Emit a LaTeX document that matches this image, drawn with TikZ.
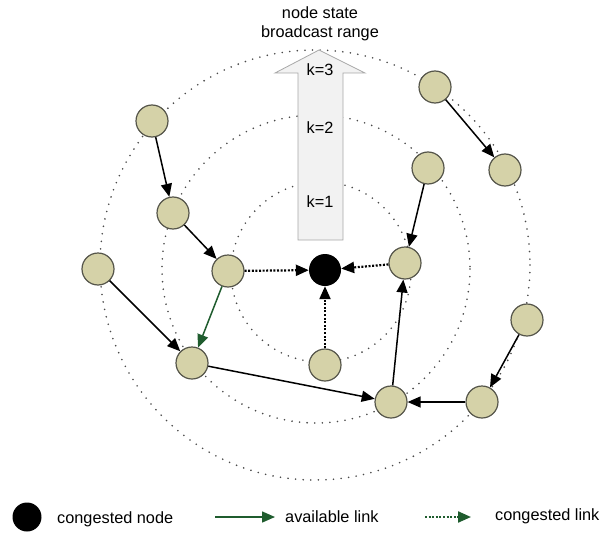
\documentclass[tikz,border=0pt]{standalone}
\usepackage{fontspec}
\setmainfont{Liberation Sans}
\usetikzlibrary{arrows.meta}
\definecolor{nodefill}{HTML}{D5D2A8}
\definecolor{nodeline}{HTML}{55554A}
\definecolor{linkgreen}{HTML}{1F5C2E}
\definecolor{ringgray}{HTML}{4A4A4A}
\definecolor{arrowfill}{HTML}{F2F2F2}
\definecolor{arrowline}{HTML}{A8A8A8}
\begin{document}
\begin{tikzpicture}[x=1pt,y=-1pt,
  ring/.style={draw=ringgray, line width=1.8pt, dash pattern=on 0pt off 7.6pt, line cap=round},
  netnode/.style={circle, draw=nodeline, fill=nodefill, line width=1.2pt, minimum size=32pt, inner sep=0pt},
  hotnode/.style={circle, fill=black, minimum size=32pt, inner sep=0pt},
  link/.style={-{Triangle[length=13pt,width=11pt]}, line width=1.5pt, draw=black},
  greenlink/.style={link, draw=linkgreen, color=linkgreen},
  congested/.style={link, line width=2.2pt, dash pattern=on 2pt off 1.6pt},
  lbl/.style={font=\fontsize{16.3}{18.5}\selectfont, inner sep=0pt}
]
\useasboundingbox (0,0) rectangle (601,532);
% broadcast rings
\draw[ring] (321,272) circle[radius=90];
\draw[ring] (316,269) circle[radius=154];
\draw[ring] (315,265) circle[radius=215];
% block arrow
\draw[fill=arrowfill, draw=arrowline, line width=0.8pt]
  (298,240) -- (298,73) -- (275,73) -- (319,50) -- (365,73) -- (343,73) -- (343,240) -- cycle;
\node[lbl] (k3) at (320,70) {k=3};
\node[lbl] (k2) at (320,128) {k=2};
\node[lbl] (k1) at (320,202) {k=1};
\node[lbl, align=center] (title) at (320,24) {node state\\broadcast range};
% nodes
\node[hotnode] (C) at (325,270) {};
\node[netnode] (A1) at (152,121) {};
\node[netnode] (A2) at (173,213) {};
\node[netnode] (A3) at (228,271) {};
\node[netnode] (A4) at (98,269) {};
\node[netnode] (A5) at (192,363) {};
\node[netnode] (B) at (325,365) {};
\node[netnode] (D) at (405,263) {};
\node[netnode] (E) at (428,168) {};
\node[netnode] (F) at (435,87) {};
\node[netnode] (G) at (505,170) {};
\node[netnode] (H) at (527,320) {};
\node[netnode] (I) at (482,402) {};
\node[netnode] (J) at (391,402) {};
% links
\draw[link] (A1) -- (A2);
\draw[link] (A2) -- (A3);
\draw[greenlink] (A3) -- (A5);
\draw[congested] (A3) -- (C);
\draw[link] (A4) -- (A5);
\draw[link] (A5) -- (J);
\draw[congested] (B) -- (C);
\draw[congested] (D) -- (C);
\draw[link] (E) -- (D);
\draw[link] (F) -- (G);
\draw[link] (H) -- (I);
\draw[link] (I) -- (J);
\draw[link] (J) -- (D);
% legend
\node[circle, fill=black, minimum size=29pt, inner sep=0pt] (legC) at (27,517) {};
\node[lbl, anchor=west] (legCt) at (57,519) {congested node};
\coordinate (la1) at (215,517);
\coordinate (la2) at (275,517);
\draw[greenlink] (la1) -- (la2);
\node[lbl, anchor=west] (legAt) at (285,517) {available link};
\coordinate (lc1) at (425,517);
\coordinate (lc2) at (471,517);
\draw[congested, draw=linkgreen!60!black, color=linkgreen] (lc1) -- (lc2);
\node[lbl, anchor=west] (legCl) at (495,516) {congested link};
\end{tikzpicture}
\end{document}
